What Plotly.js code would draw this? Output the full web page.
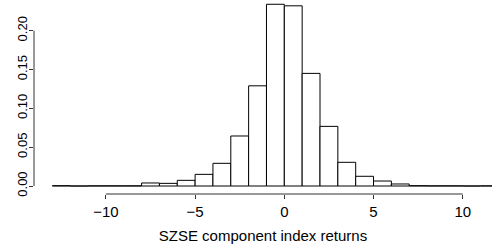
<!DOCTYPE html>
<html>
<head>
<meta charset="utf-8">
<script src="https://cdn.plot.ly/plotly-3.0.1.min.js"></script>
<style>html,body{margin:0;padding:0;background:#fff;}#chart{width:492px;height:246px;}</style>
</head>
<body>
<div id="chart"></div>
<script>
// Histogram bins (left edges, width 1) of SZSE component index returns
const binLeft = [-13,-12,-11,-10,-9,-8,-7,-6,-5,-4,-3,-2,-1,0,1,2,3,4,5,6,7,8,9,10,11];
const density = [0.0004,0,0.0002,0.0002,0.0002,0.0039,0.0034,0.0073,0.0150,0.0292,0.0644,0.129,0.234,0.232,0.145,0.0768,0.0305,0.0125,0.0064,0.0026,0.0004,0.0002,0.0002,0,0.0002];
const binWidth = 1;
const xTicks = [-10,-5,0,5,10];
const xTickText = ['\u221210','\u22125','0','5','10'];
const yTicks = [0,0.05,0.10,0.15,0.20];
const yTickText = ['0.00','0.05','0.10','0.15','0.20'];
const xTitle = 'SZSE component index returns';

const centers = binLeft.map(v => v + binWidth/2);
const font = 'Liberation Sans, Arial, Helvetica, sans-serif';

const trace = {
  type: 'bar',
  x: centers,
  y: density,
  width: binLeft.map(() => binWidth),
  marker: {color: '#ffffff', line: {color: '#000000', width: 1}},
  hoverinfo: 'skip'
};

const layout = {
  width: 492, height: 246,
  margin: {l: 34, r: 0, t: 0, b: 52},
  paper_bgcolor: '#fff', plot_bgcolor: '#fff',
  showlegend: false,
  bargap: 0,
  font: {family: font, color: '#000', size: 14},
  xaxis: {
    range: [-14.03, 11.64],
    tickvals: xTicks, ticktext: xTickText,
    ticks: 'outside', ticklen: 4, tickwidth: 1, tickcolor: '#333',
    showgrid: false, zeroline: false, showline: false,
    tickfont: {family: font, size: 15, color: '#000'},
    title: {text: xTitle, font: {family: font, size: 15, color: '#000'}, standoff: 11}
  },
  yaxis: {
    range: [-0.0103, 0.2395],
    tickvals: yTicks, ticktext: yTickText,
    ticks: 'outside', ticklen: 4, tickwidth: 1, tickcolor: '#333',
    tickangle: -90,
    ticklabelstandoff: -3,
    showgrid: false, zeroline: false, showline: false,
    tickfont: {family: font, size: 13, color: '#000'}
  },
  shapes: [
    {type: 'line', xref: 'x', yref: 'paper', x0: xTicks[0], x1: xTicks[xTicks.length-1], y0: 0, y1: 0, line: {color: '#333', width: 1}},
    {type: 'line', xref: 'paper', yref: 'y', x0: 0, x1: 0, y0: yTicks[0], y1: yTicks[yTicks.length-1], line: {color: '#333', width: 1}}
  ]
};

Plotly.newPlot('chart', [trace], layout, {displayModeBar: false, staticPlot: true});
</script>
</body>
</html>
